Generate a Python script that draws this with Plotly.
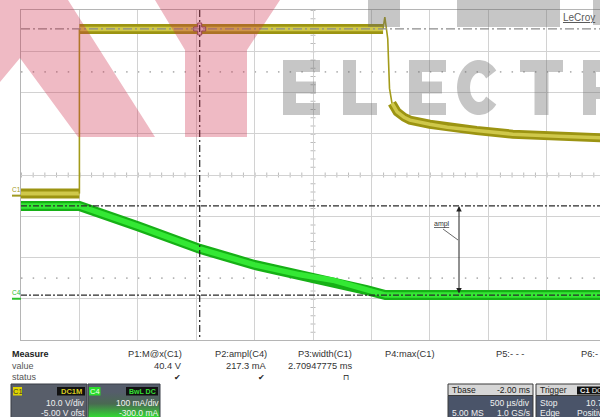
import math
import plotly.graph_objects as go

# ---------------- data ----------------
# Channel C1 (V) vs time (ms)
c1_low_t = [-0.5, 0.0]
c1_low_v = [0.5, 0.5]
c1_edge_t = [0.0, 0.0]
c1_edge_v = [0.5, 40.4]
c1_high_t = [0.0, 2.60]
c1_high_v = [40.4, 40.4]
c1_fall_t = [2.60, 2.615, 2.64, 2.655, 2.676]
c1_fall_v = [40.4, 43.3, 38.0, 26.0, 22.4]
c1_decay_t = [2.676, 2.72, 2.78, 2.83, 3.0, 3.15, 3.4, 3.71, 4.1, 4.46]
c1_decay_v = [22.4, 20.3, 19.0, 18.3, 17.3, 16.6, 15.8, 14.9, 14.4, 14.0]

# Channel C4 (mA) vs time (ms)
c4_t = [-0.5, 0.0, 0.5, 1.03, 1.5, 1.89, 2.17, 2.46, 2.62, 4.46]
c4_ma = [225, 225, 176, 121, 82, 58, 45, 21, 9, 9]

cursor_t = 1.03
ampl_t = 3.25

measure_names = ["P1:M@x(C1)", "P2:ampl(C4)", "P3:width(C1)", "P4:max(C1)", "P5:- - -", "P6:- - -"]
measure_values = ["40.4 V", "217.3 mA", "2.70947775 ms", "", "", ""]
measure_status = ["\u2714", "\u2714", "\u2293", "", "", ""]

# ---------------- scope settings ----------------
W, H = 600, 417
PX0, PX1, PY0, PY1 = 21, 600, 10, 340
DIV_PX = 58.4
T_DIV = 0.5
T_LEFT = -0.5
T_RIGHT = T_LEFT + (PX1 - PX0) / DIV_PX * T_DIV
C1_VDIV, C1_OFST = 10.0, -5.0
C4_VDIV, C4_OFST = 100.0, -300.0

def to_div(v, vdiv, ofst):
    return (v + ofst) / vdiv

FONT = "Liberation Sans, Arial, sans-serif"
OLIVE_D = "#9c9412"
OLIVE_L = "#cfc84a"

fig = go.Figure()

# C4 trace (green band)
fig.add_trace(go.Scatter(x=c4_t, y=c4_ma, yaxis="y3", mode="lines",
                         line=dict(color="#16b016", width=10), hoverinfo="skip"))
fig.add_trace(go.Scatter(x=c4_t, y=c4_ma, yaxis="y3", mode="lines",
                         line=dict(color="#34e834", width=5.5), hoverinfo="skip"))

# C1 trace
for tt, vv, w1, w2 in [(c1_low_t, c1_low_v, 10, 4), (c1_high_t, c1_high_v, 10, 4.5),
                       (c1_decay_t, c1_decay_v, 9, 3.5)]:
    fig.add_trace(go.Scatter(x=tt, y=vv, yaxis="y2", mode="lines",
                             line=dict(color=OLIVE_D, width=w1), hoverinfo="skip"))
    fig.add_trace(go.Scatter(x=tt, y=vv, yaxis="y2", mode="lines",
                             line=dict(color=OLIVE_L, width=w2), hoverinfo="skip"))
for tt, vv in [(c1_edge_t, c1_edge_v), (c1_fall_t, c1_fall_v)]:
    fig.add_trace(go.Scatter(x=tt, y=vv, yaxis="y2", mode="lines",
                             line=dict(color="#a39b1a", width=1.6), hoverinfo="skip"))

# trigger marker
fig.add_trace(go.Scatter(x=[0], y=[-4.08], mode="markers", cliponaxis=False,
                         marker=dict(symbol="triangle-up", size=8, color="#c9b800"),
                         hoverinfo="skip"))
# cursor cross
fig.add_trace(go.Scatter(x=[cursor_t], y=[c1_high_v[0]], yaxis="y2", mode="markers",
                         marker=dict(symbol="cross", size=10, color="#e9c7cf",
                                     line=dict(color="#7a4a55", width=1)),
                         hoverinfo="skip"))

# C4 channel box with gradient (pixel axes)
fig.add_trace(go.Scatter(x=[88, 160, 160, 88, 88], y=[384, 384, 420, 420, 384],
                         xaxis="x2", yaxis="y4", mode="lines", fill="toself",
                         fillgradient=dict(type="vertical",
                                           colorscale=[[0, "#555d6b"], [0.45, "#4a6a52"], [1, "#30e030"]],
                                           start=392, stop=418),
                         line=dict(color="#3a3f48", width=1), hoverinfo="skip"))

shapes = []
ann = []

def pxrect(x0, y0, x1, y1, fill, line=None, lw=0):
    shapes.append(dict(type="rect", xref="x2", yref="y4", x0=x0, y0=y0, x1=x1, y1=y1,
                       fillcolor=fill, line=dict(color=line or fill, width=lw), layer="above"))

def txt(x, y, s, size=9, color="#333", anchor="left", ref=("x2", "y4"), bold=False):
    if bold:
        s = "<b>" + s + "</b>"
    ann.append(dict(x=x, y=y, xref=ref[0], yref=ref[1], text=s, showarrow=False,
                    xanchor=anchor, yanchor="middle", borderpad=0,
                    font=dict(size=size, color=color, family=FONT)))

# graticule extras
shapes.append(dict(type="line", xref="x", yref="y", x0=T_LEFT, x1=T_RIGHT, y0=0, y1=0,
                   line=dict(color="#bcbcbc", width=5, dash="1px,10.68px"), layer="below"))
shapes.append(dict(type="line", xref="x", yref="y", x0=2.0, x1=2.0, y0=4, y1=-4,
                   line=dict(color="#bcbcbc", width=5, dash="1px,7.25px"), layer="below"))
for yd in (2.5, -2.5):
    shapes.append(dict(type="line", xref="x", yref="y", x0=T_LEFT, x1=T_RIGHT, y0=yd, y1=yd,
                       line=dict(color="#b4b4b4", width=1.6, dash="1.5px,10.18px"), layer="below"))

# dash-dot measurement lines
c1_level = to_div(c1_high_v[0], C1_VDIV, C1_OFST)
c4_top = to_div(max(c4_ma), C4_VDIV, C4_OFST)
c4_base = to_div(min(c4_ma), C4_VDIV, C4_OFST)
shapes.append(dict(type="line", xref="x", yref="y", x0=T_LEFT, x1=T_RIGHT, y0=c1_level, y1=c1_level,
                   line=dict(color="#8c8c8c", width=1.3, dash="9px,3px,2px,3px"), layer="above"))
for yd in (c4_top, c4_base):
    shapes.append(dict(type="line", xref="x", yref="y", x0=T_LEFT, x1=T_RIGHT, y0=yd, y1=yd,
                       line=dict(color="#2a2a2a", width=1.3, dash="6px,2px,2px,2px"), layer="above"))
shapes.append(dict(type="line", xref="x", yref="y", x0=cursor_t, x1=cursor_t, y0=4, y1=-4,
                   line=dict(color="#1e1e1e", width=1.2, dash="7px,3px,2px,3px"), layer="above"))

# ampl arrow + label
ann.append(dict(x=ampl_t, y=c4_top, xref="x", yref="y", ax=ampl_t, ay=c4_base, axref="x", ayref="y",
                text="", showarrow=True, arrowhead=2, arrowside="end+start", arrowsize=1.1,
                arrowwidth=1, arrowcolor="#222", standoff=0, startstandoff=0))
txt(433, 224, "<u>ampl</u>", size=7, color="#333")
shapes.append(dict(type="line", xref="x2", yref="y4", x0=443, y0=229, x1=458, y1=240,
                   line=dict(color="#444", width=0.8), layer="above"))

# channel zero markers
c1_zero_px = 175 - to_div(0, C1_VDIV, C1_OFST) * 41.25
c4_zero_px = 175 - to_div(0, C4_VDIV, C4_OFST) * 41.25
txt(11, c1_zero_px - 6.5, "C1", size=6.5, color="#a09a20")
shapes.append(dict(type="line", xref="x2", yref="y4", x0=12, x1=21, y0=c1_zero_px, y1=c1_zero_px,
                   line=dict(color="#a09a20", width=2), layer="above"))
txt(11, c4_zero_px - 6.5, "C4", size=6.5, color="#2cc02c")
shapes.append(dict(type="line", xref="x2", yref="y4", x0=12, x1=21, y0=c4_zero_px, y1=c4_zero_px,
                   line=dict(color="#2cc02c", width=2), layer="above"))

# LeCroy
txt(562, 17, "<u>LeCroy</u>", size=10, color="#5a5a5a")

# measure table
txt(11, 354, "Measure", size=9, color="#222", bold=True)
txt(11, 366, "value", size=9, color="#555")
txt(11, 377, "status", size=9, color="#555")
name_right = [183, 268, 353, None, None, None]
name_left = [None, None, None, 384, 495, 580]
status_x = [177, 261, 346]
for i, nm in enumerate(measure_names):
    if name_right[i] is not None:
        txt(name_right[i], 354, nm, size=9.3, color="#333", anchor="right")
        txt(name_right[i], 366, measure_values[i], size=9.3, color="#333", anchor="right")
        txt(status_x[i], 377, measure_status[i], size=8, color="#222", anchor="center")
    else:
        txt(name_left[i], 354, nm, size=9.3, color="#333", anchor="left")

# C1 box
pxrect(11, 384, 87, 420, "#585e6a", "#383c44", 1)
pxrect(13, 387, 22, 395.5, "#e0d400")
txt(17.5, 391.3, "C1", size=7.5, color="#333", anchor="center")
pxrect(57, 387, 85, 395.5, "#111111")
txt(71, 391.3, "DC1M", size=7.5, color="#d8cc20", anchor="center", bold=True)
txt(86, 403, "10.0 V/div", size=8.5, color="#f0f0f0", anchor="right")
txt(86, 413, "-5.00 V ofst", size=8.5, color="#f0f0f0", anchor="right")
# C4 box content
pxrect(89, 387, 100.5, 395.5, "#2bdc2b")
txt(94.8, 391.3, "C4", size=7.5, color="#f4fff4", anchor="center")
pxrect(126, 387, 158, 395.5, "#111111")
txt(142, 391.3, "BwL DC", size=7, color="#36e036", anchor="center", bold=True)
txt(160, 403, "100 mA/div", size=8.5, color="#f4f4f4", anchor="right")
txt(160, 413, "-300.0 mA", size=8.5, color="#f4f4f4", anchor="right")

# Tbase box
pxrect(448, 384, 533, 395.5, "#d6d6d6", "#3a3a3a", 1)
pxrect(448, 395.5, 533, 420, "#4a5469", "#3a3a3a", 1)
txt(451, 390, "Tbase", size=8.5, color="#222")
txt(531, 390, "-2.00 ms", size=8.5, color="#222", anchor="right")
txt(531, 403, "500 \u00b5s/div", size=8.5, color="#f0f0f0", anchor="right")
txt(451, 413, "5.00 MS", size=8.5, color="#f0f0f0")
txt(531, 413, "1.0 GS/s", size=8.5, color="#f0f0f0", anchor="right")
# Trigger box
pxrect(536, 384, 610, 395.5, "#d6d6d6", "#3a3a3a", 1)
pxrect(536, 395.5, 610, 420, "#4a5469", "#3a3a3a", 1)
txt(539, 390, "Trigger", size=8.5, color="#222")
pxrect(577, 386.5, 610, 394.5, "#111111")
txt(579, 390.5, "<b>C1</b> DC", size=7.5, color="#f0f0f0")
txt(539, 403, "Stop", size=8.5, color="#f0f0f0")
txt(585, 403, "10.70 V", size=8.5, color="#f0f0f0")
txt(539, 413, "Edge", size=8.5, color="#f0f0f0")
txt(576, 413, "Positive", size=8.5, color="#f0f0f0")

# ---------------- watermark (semi-transparent overlay) ----------------
PINK = "rgba(205,45,75,0.33)"
GRAY = "rgba(105,105,105,0.38)"
def pxpath(p, fill):
    shapes.append(dict(type="path", xref="x2", yref="y4", path=p, fillcolor=fill,
                       line=dict(width=0), layer="above"))

pxpath("M0,0 L68,0 L155,137 L78,137 L20,58 L0,82 Z", PINK)
pxpath("M155,0 L280,0 L247,50 L247,137 L185,137 L185,50 Z", PINK)
pxpath("M368,0 H400 V27 H368 Z", GRAY)
pxpath("M457,0 H560 V27 H457 Z", GRAY)
pxpath("M593,0 H600 V25 H593 Z", GRAY)

def letter_E(x0):
    return (f"M{x0},60 H{x0+37} V72 H{x0+13} V81.5 H{x0+33} V93.5 H{x0+13} "
            f"V103 H{x0+37} V115 H{x0} Z")

def letter_L(x0):
    return f"M{x0},60 H{x0+13} V103 H{x0+34} V115 H{x0} Z"

def letter_T(x0):
    return (f"M{x0},60 H{x0+43} V72 H{x0+28.5} V115 H{x0+14.5} V72 H{x0} Z")

def letter_C(cx, cy, rx, ry, t, gap_deg=38):
    pts_o, pts_i = [], []
    n = 40
    a0, a1 = math.radians(gap_deg), math.radians(360 - gap_deg)
    for k in range(n + 1):
        a = a0 + (a1 - a0) * k / n
        pts_o.append((cx + rx * math.cos(a), cy + ry * math.sin(a)))
    for k in range(n + 1):
        a = a1 - (a1 - a0) * k / n
        pts_i.append((cx + (rx - t) * math.cos(a), cy + (ry - t) * math.sin(a)))
    pts = pts_o + pts_i
    return "M" + " L".join(f"{x:.1f},{y:.1f}" for x, y in pts) + " Z"

def letter_R(x0):
    return f"M{x0},60 H600 V72 H{x0+13} V87 H600 V99 H{x0+13} V115 H{x0} Z"

pxpath(letter_E(283), GRAY)
pxpath(letter_L(343), GRAY)
pxpath(letter_E(409), GRAY)
pxpath(letter_C(479, 87.5, 22, 27.5, 13), GRAY)
pxpath(letter_T(520), GRAY)
pxpath(letter_R(583), GRAY)

# ---------------- layout ----------------
y_dom = [1 - PY1 / H, 1 - PY0 / H]
fig.update_layout(
    width=W, height=H,
    margin=dict(l=0, r=0, t=0, b=0),
    paper_bgcolor="white", plot_bgcolor="rgba(0,0,0,0)",
    showlegend=False,
    xaxis=dict(domain=[PX0 / W, 1], range=[T_LEFT, T_RIGHT], tick0=T_LEFT, dtick=T_DIV,
               showgrid=True, gridcolor="#d2d2d2", gridwidth=1, zeroline=False,
               showticklabels=False, ticks="", showline=True, mirror=True,
               linecolor="#b5b5b5", linewidth=1, anchor="y"),
    yaxis=dict(domain=y_dom, range=[-4, 4], tick0=0, dtick=1, showgrid=True,
               gridcolor="#d2d2d2", gridwidth=1, zeroline=False, showticklabels=False,
               ticks="", showline=True, mirror=False, linecolor="#b5b5b5", linewidth=1,
               anchor="x"),
    yaxis2=dict(overlaying="y", range=[-4 * C1_VDIV - C1_OFST, 4 * C1_VDIV - C1_OFST],
                visible=False, anchor="x"),
    yaxis3=dict(overlaying="y", range=[-4 * C4_VDIV - C4_OFST, 4 * C4_VDIV - C4_OFST],
                visible=False, anchor="x"),
    xaxis2=dict(domain=[0, 1], range=[0, W], visible=False, anchor="y4"),
    yaxis4=dict(domain=[0, 1], range=[H, 0], visible=False, anchor="x2"),
    shapes=shapes,
    annotations=ann,
)

fig.write_html("out.html", config={"displayModeBar": False},
               post_script="document.body.style.margin='0';document.body.style.overflow='hidden';")
